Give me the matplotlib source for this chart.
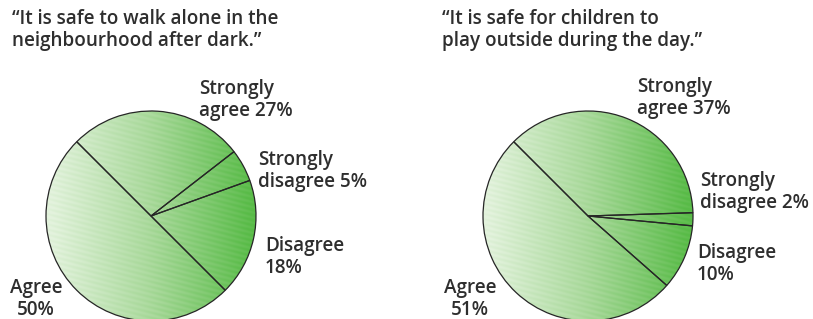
import numpy as np
import matplotlib
matplotlib.use("Agg")
import matplotlib.pyplot as plt
from matplotlib.colors import LinearSegmentedColormap
from matplotlib.patches import Circle

# ---- data ----
titles = ["\u201cIt is safe to walk alone in the\nneighbourhood after dark.\u201d",
          "\u201cIt is safe for children to\nplay outside during the day.\u201d"]
categories = ["Agree", "Disagree", "Strongly disagree", "Strongly agree"]
values_dark = [50, 18, 5, 27]
values_day = [51, 10, 2, 37]
labels_dark = ["Agree\n50%", "Disagree\n18%", "Strongly\ndisagree 5%", "Strongly\nagree 27%"]
labels_day = ["Agree\n51%", "Disagree\n10%", "Strongly\ndisagree 2%", "Strongly\nagree 37%"]

W, H = 813, 319
fig = plt.figure(figsize=(W / 100, H / 100), dpi=100)
fig.patch.set_facecolor("white")

FONT = ["Open Sans", "DejaVu Sans"]
TXT = "#2e2e2e"
FS = 13.6
cmap = LinearSegmentedColormap.from_list("g", ["#e4f3de", "#a9d99b", "#58bb47"])


def fx(x):
    return x / W


def fy(y):
    return 1 - y / H


def draw_pie(cx, cy, r, values, labels, label_pos, title, title_pos):
    ax = fig.add_axes([fx(cx - r), fy(cy + r), 2 * r / W, 2 * r / H])
    ax.set_axis_off()
    # gradient fill with subtle diagonal stripes
    n = 420
    xs = np.linspace(-1, 1, n)
    X, Y = np.meshgrid(xs, xs)
    base = (X + 1) / 2
    stripes = 0.04 * np.sin((Y * np.cos(0.25) + X * np.sin(0.25)) * 2 * np.pi * r / 5.0)
    img = np.clip(base + stripes, 0, 1)
    im = ax.imshow(img, cmap=cmap, extent=(-1, 1, -1, 1), origin="lower",
                   interpolation="bilinear", zorder=1)
    clip = Circle((0, 0), 1, transform=ax.transData)
    im.set_clip_path(clip)
    ax.pie(values, startangle=135, counterclock=True, radius=1,
           wedgeprops=dict(facecolor="none", edgecolor="#262626", linewidth=0.9, zorder=2))
    ax.set_xlim(-1, 1)
    ax.set_ylim(-1, 1)
    ax.set_aspect("equal")
    for lab, (x, y, ha) in zip(labels, label_pos):
        fig.text(fx(x), fy(y), lab, ha=ha, va="top", fontsize=FS, color=TXT,
                 family=FONT, weight="semibold", linespacing=1.12,
                 multialignment="center" if ha == "center" else "left")
    fig.text(fx(title_pos[0]), fy(title_pos[1]), title, ha="left", va="top",
             fontsize=FS, color=TXT, family=FONT, weight="semibold", linespacing=1.12)


draw_pie(151, 216, 105, values_dark, labels_dark,
         [(36, 278, "center"), (265, 236, "left"), (258, 150, "left"), (199, 79, "left")],
         titles[0], (12, 9))
draw_pie(588, 216, 105, values_day, labels_day,
         [(470, 278, "center"), (697, 243, "left"), (700, 171, "left"), (637, 77, "left")],
         titles[1], (442, 9))

fig.savefig("out.png", dpi=100)
